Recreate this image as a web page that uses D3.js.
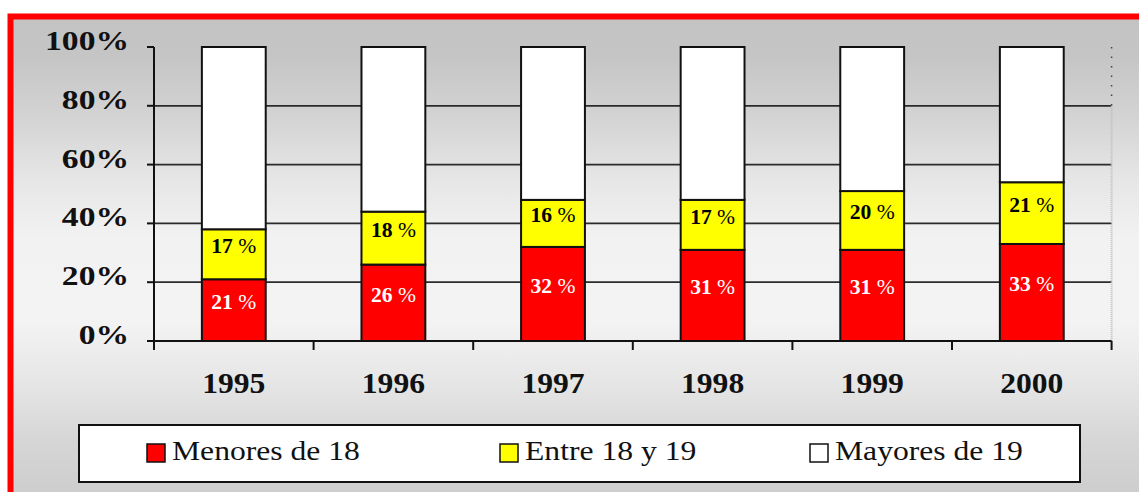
<!DOCTYPE html>
<html><head><meta charset="utf-8">
<script src="https://cdn.jsdelivr.net/npm/d3@7"></script>
<style>html,body{margin:0;padding:0;background:#fff;overflow:hidden}</style>
</head><body>
<svg id="c" width="1139" height="492"></svg>
<script>
const years = ["1995","1996","1997","1998","1999","2000"];
const menores = [21,26,32,31,31,33];
const entre = [17,18,16,17,20,21];
const mayores = [62,56,52,52,49,46];
const yTicks = [0,20,40,60,80,100];
const seriesNames = ["Menores de 18","Entre 18 y 19","Mayores de 19"];
const colors = ["#ff0000","#ffff00","#ffffff"];
const labelColors = ["#ffffff","#000000",null];

const svg = d3.select("#c");
const W = 1139, H = 492;
const serif = "Liberation Serif, Times New Roman, Times, serif";

// background gradient
const defs = svg.append("defs");
const grad = defs.append("linearGradient").attr("id","bg").attr("x1",0).attr("y1",0).attr("x2",0).attr("y2",1);
[[0,"#c3c3c3"],[0.08,"#c5c5c5"],[0.2,"#d3d3d3"],[0.33,"#e6e6e6"],[0.45,"#f2f2f2"],[0.62,"#f3f3f3"],[0.74,"#e6e6e6"],[0.86,"#d6d6d6"],[1,"#cbcbcb"]]
  .forEach(([o,c])=>grad.append("stop").attr("offset",o).attr("stop-color",c));
svg.append("rect").attr("x",10).attr("y",17).attr("width",W).attr("height",H).attr("fill","url(#bg)");
svg.append("rect").attr("x",10.5).attr("y",16.5).attr("width",W+20).attr("height",H+20)
  .attr("fill","none").attr("stroke","#ff0000").attr("stroke-width",6);

const left = 154, right = 1111.6;
const x = d3.scaleBand().domain(years).range([left,right]).paddingInner(0.6).paddingOuter(0.3);
const y = d3.scaleLinear().domain([0,100]).range([341,47]);
const step = x.step();

// gridlines
svg.append("g").selectAll("line").data(yTicks.filter(t=>t>0&&t<100)).join("line")
  .attr("x1",left).attr("x2",right).attr("y1",d=>y(d)).attr("y2",d=>y(d))
  .attr("stroke","#2b2b2b").attr("stroke-width",1.8);

// right edge dotted line
svg.append("line").attr("x1",right).attr("x2",right).attr("y1",y(100)).attr("y2",y(80))
  .attr("stroke","#444").attr("stroke-width",1.5).attr("stroke-dasharray","1.5,8");
svg.append("line").attr("x1",right).attr("x2",right).attr("y1",y(80)).attr("y2",y(0))
  .attr("stroke","#bdbdbd").attr("stroke-width",2).attr("stroke-dasharray","1,1");

// stacked bars
const rows = years.map((yr,i)=>({year:yr, a:menores[i], b:entre[i], c:mayores[i]}));
const stack = d3.stack().keys(["a","b","c"])(rows);
const gBars = svg.append("g");
stack.forEach((s,si)=>{
  gBars.selectAll(null).data(s).join("rect")
    .attr("x",d=>x(d.data.year)).attr("width",x.bandwidth())
    .attr("y",d=>y(d[1])).attr("height",d=>y(d[0])-y(d[1]))
    .attr("fill",colors[si]).attr("stroke","#111").attr("stroke-width",2);
});
// bar labels
stack.forEach((s,si)=>{
  if(!labelColors[si]) return;
  const g = gBars.selectAll(null).data(s).join("g")
    .attr("transform",d=>`translate(${x(d.data.year)+x.bandwidth()/2},${(y(d[0])+y(d[1]))/2-1}) scale(1.08,1)`);
  const t = g.append("text").attr("text-anchor","middle").style("font-family",serif)
    .attr("font-size",20).attr("fill",labelColors[si]);
  t.append("tspan").attr("font-weight","bold").text(d=>(d[1]-d[0])+" ");
  t.append("tspan").attr("font-weight","normal").text("%");
});

// y axis
svg.append("line").attr("x1",left).attr("x2",left).attr("y1",y(100)).attr("y2",350)
  .attr("stroke","#111").attr("stroke-width",2);
svg.append("g").selectAll("line").data(yTicks).join("line")
  .attr("x1",left-7).attr("x2",left).attr("y1",d=>y(d)).attr("y2",d=>y(d))
  .attr("stroke","#111").attr("stroke-width",2);
svg.append("g").selectAll("g").data(yTicks).join("g")
  .attr("transform",d=>`translate(129,${y(d)+3}) scale(1.2,1)`)
  .append("text").attr("text-anchor","end").style("font-family",serif).attr("font-weight","bold")
  .attr("font-size",28).attr("fill","#111").text(d=>d+"%");

// x axis
svg.append("line").attr("x1",left-7).attr("x2",right).attr("y1",y(0)).attr("y2",y(0))
  .attr("stroke","#111").attr("stroke-width",2);
svg.append("g").selectAll("line").data(d3.range(years.length+1)).join("line")
  .attr("x1",i=>left+i*step).attr("x2",i=>left+i*step).attr("y1",y(0)).attr("y2",350)
  .attr("stroke","#111").attr("stroke-width",2);
svg.append("g").selectAll("g").data(years).join("g")
  .attr("transform",d=>`translate(${x(d)+x.bandwidth()/2},393) scale(1.09,1)`)
  .append("text").attr("text-anchor","middle").style("font-family",serif).attr("font-weight","bold")
  .attr("font-size",29).attr("fill","#111").text(d=>d);

// legend
svg.append("rect").attr("x",79).attr("y",425).attr("width",1001).attr("height",57)
  .attr("fill","#fff").attr("stroke","#111").attr("stroke-width",2);
const legX = [147, 500, 810];
const lg = svg.append("g").selectAll("g").data(seriesNames).join("g")
  .attr("transform",(d,i)=>`translate(${legX[i]},0)`);
lg.append("rect").attr("x",0).attr("y",444).attr("width",18).attr("height",18)
  .attr("fill",(d,i)=>colors[i]).attr("stroke","#111").attr("stroke-width",1.5);
lg.append("g").attr("transform","translate(25,460) scale(1.13,1)")
  .append("text").style("font-family",serif).attr("font-size",28).attr("fill","#111").text(d=>d);
</script>
</body></html>
